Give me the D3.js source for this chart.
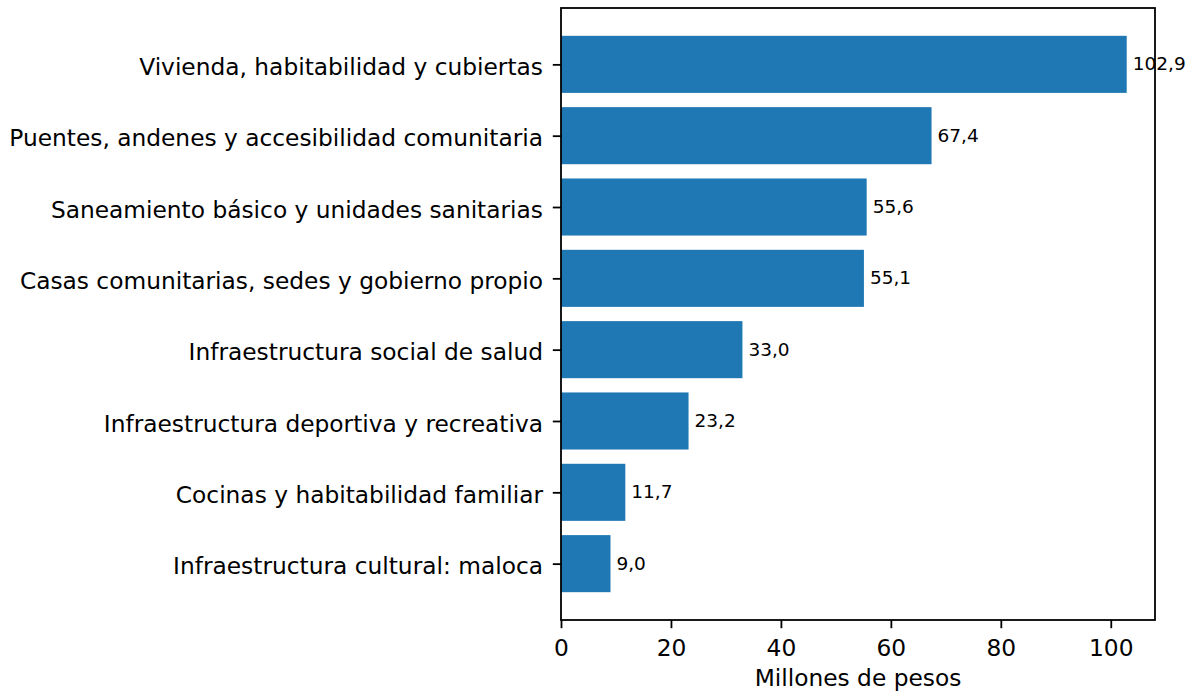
<!DOCTYPE html>
<html>
<head>
<meta charset="utf-8">
<script src="https://cdn.jsdelivr.net/npm/d3@7"></script>
<style>
  body { margin: 0; background: #fff; }
  svg text { font-family: "DejaVu Sans", sans-serif; fill: #000; }
</style>
</head>
<body>
<div id="svganchor"></div>
<script>
let width = 1196, height = 698;

let margin = ({top: 8, right: 41, bottom: 78, left: 561});

let categories = [
    "Vivienda, habitabilidad y cubiertas",
    "Puentes, andenes y accesibilidad comunitaria",
    "Saneamiento básico y unidades sanitarias",
    "Casas comunitarias, sedes y gobierno propio",
    "Infraestructura social de salud",
    "Infraestructura deportiva y recreativa",
    "Cocinas y habitabilidad familiar",
    "Infraestructura cultural: maloca"
];
let values = [102.9, 67.4, 55.6, 55.1, 33.0, 23.2, 11.7, 9.0];
let xTicks = [0, 20, 40, 60, 80, 100];
let xTitleText = "Millones de pesos";

let barColor = "#1f77b4";
let barHeight = 0.8;
let tickFont = 23.3;
let labelFont = 18.5;
let tickLen = 8.2;
let labelFormat = d => d3.format(".1f")(d).replace(".", ",");

// matplotlib-like limits: 5% margin on top end, bars stick to 0
let xMax = d3.max(values) * 1.05;
let xScale = d3.scaleLinear()
    .domain([0, xMax])
    .range([margin.left, width - margin.right]);

let n = categories.length;
let yPad = (n - 1 + barHeight) * 0.05;
let yScale = d3.scaleLinear()
    .domain([-barHeight / 2 - yPad, n - 1 + barHeight / 2 + yPad])
    .range([margin.top, height - margin.bottom]);

let svg = d3.select("#svganchor")
    .append("svg")
    .attr("width", width)
    .attr("height", height);

let data = categories.map((c, i) => ({title: c, value: values[i], i: i}));

svg.selectAll(".bars")
    .data(data)
    .enter()
    .append("rect")
    .attr("class", "bars")
    .attr("x", xScale(0))
    .attr("y", d => yScale(d.i - barHeight / 2))
    .attr("width", d => xScale(d.value) - xScale(0))
    .attr("height", d => yScale(d.i + barHeight / 2) - yScale(d.i - barHeight / 2))
    .attr("fill", barColor);

let xAxis = d3.axisBottom(xScale)
    .tickValues(xTicks)
    .tickFormat(d3.format("d"))
    .tickSizeInner(tickLen)
    .tickSizeOuter(0)
    .tickPadding(11.5);

let yAxis = d3.axisLeft(yScale)
    .tickValues(d3.range(n))
    .tickFormat(i => categories[i])
    .tickSizeInner(tickLen)
    .tickSizeOuter(0)
    .tickPadding(9.8);

let gX = svg.append("g")
    .attr("class", "x axis")
    .attr("transform", `translate(0,${height - margin.bottom})`)
    .call(xAxis);

let gY = svg.append("g")
    .attr("class", "y axis")
    .attr("transform", `translate(${margin.left},0)`)
    .call(yAxis);

svg.selectAll(".axis .domain").remove();
svg.selectAll(".axis line").attr("stroke", "#000").attr("stroke-width", 1.8);
svg.selectAll(".axis text")
    .attr("font-size", tickFont + "px")
    .attr("font-family", "DejaVu Sans")
    .attr("fill", "#000");
gY.selectAll("text").attr("dy", "0.44em");

// frame of the plot area
svg.append("rect")
    .attr("x", margin.left)
    .attr("y", margin.top)
    .attr("width", width - margin.right - margin.left)
    .attr("height", height - margin.bottom - margin.top)
    .attr("fill", "none")
    .attr("stroke", "#000")
    .attr("stroke-width", 1.8);

// value labels drawn after the frame so they sit on top of it
svg.selectAll(".valueLabel")
    .data(data)
    .enter()
    .append("text")
    .attr("class", "valueLabel")
    .attr("x", d => xScale(d.value) + 6)
    .attr("y", d => yScale(d.i))
    .attr("dy", "0.33em")
    .attr("font-size", labelFont + "px")
    .text(d => labelFormat(d.value));

svg.append("text")
    .attr("class", "axisTitle")
    .attr("text-anchor", "middle")
    .attr("x", (margin.left + (width - margin.right)) / 2)
    .attr("y", 686)
    .attr("font-size", tickFont + "px")
    .text(xTitleText);
</script>
</body>
</html>
